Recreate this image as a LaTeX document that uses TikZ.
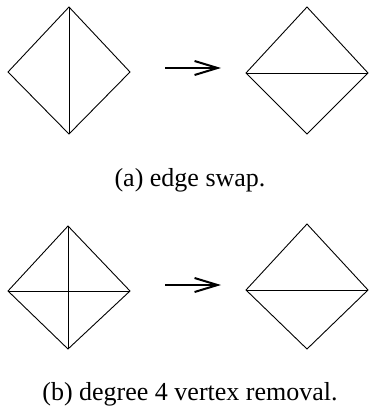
\documentclass[tikz,border=0pt]{standalone}
\usepackage{fontspec}
\setmainfont{Liberation Serif}
\usetikzlibrary{arrows.meta}
\tikzset{
  meshedge/.style={line width=0.9pt, line join=miter},
  swaparrow/.style={-{Straight Barb[length=23pt, width=14pt, line width=2pt]}, line width=2.2pt},
  caption/.style={font=\fontsize{26}{30}\selectfont, inner sep=0pt, anchor=base}
}

\begin{document}
\begin{tikzpicture}[x=1pt, y=-1pt]
  \useasboundingbox (0,0) rectangle (368,406);
  % (a) edge swap
  \coordinate (a1t) at (69,7);
  \coordinate (a1l) at (8,72);
  \coordinate (a1r) at (130,72);
  \coordinate (a1b) at (69,134);
  \coordinate (a2t) at (307,7);
  \coordinate (a2l) at (246,73);
  \coordinate (a2r) at (368,73);
  \coordinate (a2b) at (307,134);
  \draw[meshedge] (a1t) -- (a1r) -- (a1b) -- (a1l) -- cycle;
  \draw[meshedge] (a1t) -- (a1b);
  \draw[meshedge] (a2t) -- (a2r) -- (a2b) -- (a2l) -- cycle;
  \draw[meshedge] (a2l) -- (a2r);
  \coordinate (aarrs) at (165,68);
  \coordinate (aarre) at (221,68);
  \draw[swaparrow] (aarrs) -- (aarre);
  \node[caption] (capa) at (190,186) {(a) edge swap.};
  % (b) degree 4 vertex removal
  \coordinate (b1t) at (68,226);
  \coordinate (b1l) at (8,291);
  \coordinate (b1r) at (130,291);
  \coordinate (b1b) at (68,349);
  \coordinate (b2t) at (307,224);
  \coordinate (b2l) at (246,290);
  \coordinate (b2r) at (368,290);
  \coordinate (b2b) at (307,349);
  \draw[meshedge] (b1t) -- (b1r) -- (b1b) -- (b1l) -- cycle;
  \draw[meshedge] (b1t) -- (b1b);
  \draw[meshedge] (b1l) -- (b1r);
  \draw[meshedge] (b2t) -- (b2r) -- (b2b) -- (b2l) -- cycle;
  \draw[meshedge] (b2l) -- (b2r);
  \coordinate (barrs) at (165,285);
  \coordinate (barre) at (221,285);
  \draw[swaparrow] (barrs) -- (barre);
  \node[caption] (capb) at (190,400) {(b) degree 4 vertex removal.};
\end{tikzpicture}
\end{document}
